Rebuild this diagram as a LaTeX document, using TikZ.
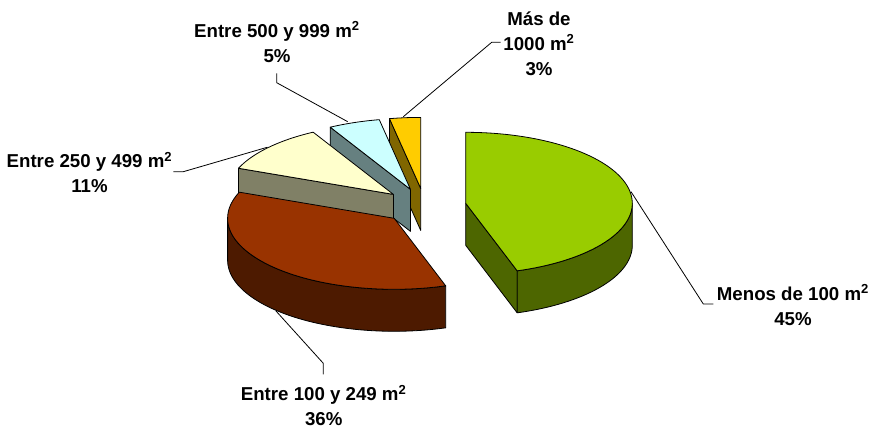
\documentclass[tikz,border=0pt]{standalone}
\usepackage{fontspec}
\setmainfont{Liberation Sans}
\usetikzlibrary{calc}
\definecolor{gT}{HTML}{99CC00}\definecolor{gS}{HTML}{4D6600}
\definecolor{bT}{HTML}{993300}\definecolor{bS}{HTML}{4D1A00}
\definecolor{crT}{HTML}{FFFFCC}\definecolor{crS}{HTML}{808066}
\definecolor{cT}{HTML}{CCFFFF}\definecolor{cS}{HTML}{668080}
\definecolor{yT}{HTML}{FFCC00}\definecolor{yS}{HTML}{806600}
\newcommand\pieTop[5]{\path[slice,fill=#5] (#1,#2) -- plot[domain=#3:#4,samples=72] ({#1+166.6*cos(\x)},{#2-71*sin(\x)}) -- cycle;}
\newcommand\pieRim[5]{\path[slice,fill=#5] plot[domain=#3:#4,samples=60] ({#1+166.6*cos(\x)},{#2-71*sin(\x)}) -- plot[domain=#4:#3,samples=60] ({#1+166.6*cos(\x)},{#2+42-71*sin(\x)}) -- cycle;}
\newcommand\pieCut[4]{\path[slice,fill=#4] (#1,#2) -- ({#1+166.6*cos(#3)},{#2-71*sin(#3)}) -- ++(0,42) -- (#1,{#2+42}) -- cycle;}
\begin{document}
\begin{tikzpicture}[x=0.75pt,y=-0.75pt,line join=round,
  slice/.style={draw=black,line width=0.6pt},
  leader/.style={draw=black,line width=0.6pt},
  lbl/.style={font=\bfseries\fontsize{14}{18.4}\selectfont,align=center,inner sep=0pt,anchor=base}]
\useasboundingbox (0,0) rectangle (874,428);
% slices, back to front
\pieCut{420.7}{188.4}{100.8}{yS}
\pieTop{420.7}{188.4}{100.8}{90}{yT}
\pieCut{410.5}{189.4}{118.8}{cS}
\pieTop{410.5}{189.4}{118.8}{100.8}{cT}
\pieCut{393.4}{194.4}{158.4}{crS}
\pieTop{393.4}{194.4}{158.4}{118.8}{crT}
\pieRim{394.2}{218.3}{-72}{-180}{bS}
\pieTop{394.2}{218.3}{-72}{-201.6}{bT}
\pieCut{465.7}{203.3}{-72}{gS}
\pieRim{465.7}{203.3}{0}{-72}{gS}
\pieTop{465.7}{203.3}{90}{-72}{gT}
% labels (anchor base = baseline of last line)
\node[lbl] (l5) at (277,62.3) {Entre 500 y 999 m\textsuperscript{2}\\5\%};
\node[lbl] (l3) at (539,75) {Más de\\1000 m\textsuperscript{2}\\3\%};
\node[lbl] (l11) at (89.5,192.5) {Entre 250 y 499 m\textsuperscript{2}\\11\%};
\node[lbl] (l36) at (323.7,425.5) {Entre 100 y 249 m\textsuperscript{2}\\36\%};
\node[lbl] (l45) at (793,325) {Menos de 100 m\textsuperscript{2}\\45\%};
% leader ends
\coordinate (e5) at (347.7,121.7);
\coordinate (e3) at (403.3,116.7);
\coordinate (e11) at (267.5,147.2);
\coordinate (e36) at (276,311);
\coordinate (e45) at (631,191.7);
\draw[leader] ($(l5.base)+(-0.3,11)$) -- ++(0,9.4) -- (e5);
\draw[leader] ($(l3.base)+(-38.3,-32.7)$) -- ++(-9,0) -- (e3);
\draw[leader] ($(l11.base)+(83.8,-20.8)$) -- ++(10,0) -- (e11);
\draw[leader] ($(l36.base)+(-0.4,-51.2)$) -- ++(0,-11) -- (e36);
\draw[leader] ($(l45.base)+(-79.7,-21)$) -- ++(-10,0) -- (e45);
\end{tikzpicture}
\end{document}
